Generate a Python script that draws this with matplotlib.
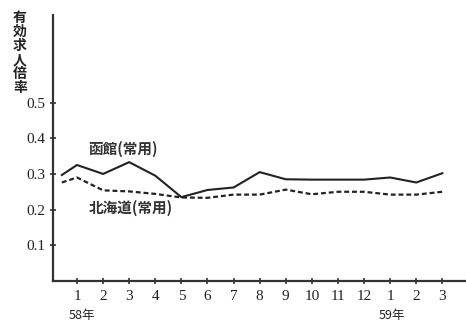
import matplotlib
matplotlib.use("Agg")
import matplotlib.pyplot as plt

# Data
x_labels = ["1", "2", "3", "4", "5", "6", "7", "8", "9", "10", "11", "12", "1", "2", "3"]
x_pos = [0.42] + list(range(1, 16))
hakodate = [0.297, 0.325, 0.300, 0.333, 0.295, 0.235, 0.255, 0.262, 0.305, 0.285, 0.284, 0.284, 0.284, 0.290, 0.276, 0.302]
hokkaido = [0.276, 0.290, 0.254, 0.251, 0.244, 0.234, 0.233, 0.242, 0.242, 0.256, 0.243, 0.250, 0.250, 0.242, 0.242, 0.250]
y_ticks = [0.1, 0.2, 0.3, 0.4, 0.5]
y_tick_labels = ["0.1", "0.2", "0.3", "0.4", "0.5"]

jp = ["Noto Sans CJK JP", "DejaVu Sans"]
num_font = "Liberation Serif"

fig = plt.figure(figsize=(4.66, 3.21), dpi=100)
ax = fig.add_axes([0.1137, 0.1246, 0.886, 0.8284])

ax.plot(x_pos, hakodate, color="#222222", lw=1.5, solid_joinstyle="miter")
ax.plot(x_pos, hokkaido, color="#222222", lw=1.6, linestyle=(0, (2.2, 1.3)))

ax.set_xlim(0.08, 15.9)
ax.set_ylim(0, 0.745)
ax.set_xticks(range(1, 16))
ax.set_xticklabels(x_labels, fontfamily=num_font, fontsize=11)
ax.set_yticks(y_ticks)
ax.set_yticklabels(y_tick_labels, fontfamily=num_font, fontsize=11)
ax.tick_params(direction="inout", length=5, width=1.2, color="#333333", labelcolor="#222222")
ax.tick_params(axis="x", pad=4)
ax.tick_params(axis="y", pad=3)

for s in ["top", "right"]:
    ax.spines[s].set_visible(False)
for s in ["left", "bottom"]:
    ax.spines[s].set_linewidth(1.6)
    ax.spines[s].set_color("#333333")

ax.text(2.77, 0.371, "函館(常用)", fontfamily=jp, fontsize=10.5, color="#333333", ha="center", va="center", fontweight="bold")
ax.text(3.06, 0.205, "北海道(常用)", fontfamily=jp, fontsize=10.5, color="#333333", ha="center", va="center", fontweight="bold")

fig.text(0.043, 0.965, "有\n効\n求\n人\n倍\n率", fontfamily=jp, fontsize=10,
         ha="center", va="top", linespacing=1.0, color="#222222", fontweight="bold")

fig.text(82/466, 1 - 316/321, "58年", fontfamily=jp, fontsize=9, ha="center", va="center", color="#222222")
fig.text(392/466, 1 - 316/321, "59年", fontfamily=jp, fontsize=9, ha="center", va="center", color="#222222")

fig.savefig("out.png", dpi=100)
